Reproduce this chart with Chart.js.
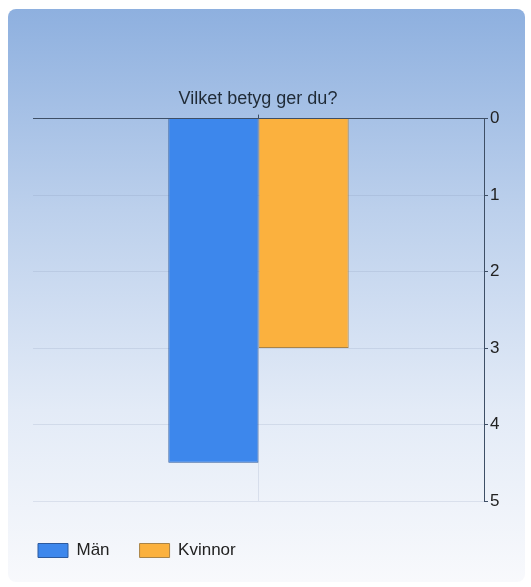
<!DOCTYPE html>
<html>
<head>
<meta charset="utf-8">
<script src="https://cdn.jsdelivr.net/npm/chart.js@4/dist/chart.umd.min.js"></script>
<style>
  body { margin: 0; background: #fff; }
  #wrap { position: relative; width: 531px; height: 587px; }
  #panel {
    position: absolute; left: 8px; top: 9px; width: 517px; height: 573px;
    border-radius: 8px;
    background: linear-gradient(#8eb0df 0%, #bcd0ec 35%, #e3ebf7 70%, #f8f9fc 100%);
  }
  #chart { position: absolute; left: 0; top: 0; }
</style>
</head>
<body>
<div id="wrap">
  <div id="panel"></div>
  <canvas id="chart" width="531" height="587"></canvas>
</div>
<script>
const categories = [''];
const seriesNames = ['Män', 'Kvinnor'];
const manValues = [4.5];
const kvinnorValues = [3];
const yTicks = [0, 1, 2, 3, 4, 5];

const fontFamily = 'Arial, "Liberation Sans", sans-serif';
const axisColor = '#3e4f66';
const gridColor = 'rgba(120,140,170,0.18)';

// empty axis used only to reserve room around the plot
const spacer = (side, size) => ({
  type: 'linear',
  position: side,
  grid: { display: false },
  border: { display: false },
  ticks: { display: false },
  afterFit: (scale) => {
    if (side === 'left' || side === 'right') scale.width = size;
    else scale.height = size;
  },
});

new Chart(document.getElementById('chart'), {
  type: 'bar',
  data: {
    labels: categories,
    datasets: [
      {
        label: seriesNames[0],
        data: manValues,
        xAxisID: 'x',
        yAxisID: 'y',
        backgroundColor: '#3d87ec',
        borderColor: '#2c5a9e',
        borderWidth: 1,
      },
      {
        label: seriesNames[1],
        data: kvinnorValues,
        xAxisID: 'x',
        yAxisID: 'y',
        backgroundColor: '#fbb13e',
        borderColor: '#a98448',
        borderWidth: 1,
      },
    ],
  },
  options: {
    responsive: false,
    animation: false,
    layout: { padding: { left: 8, right: 23, top: 88, bottom: 18 } },
    datasets: { bar: { categoryPercentage: 0.4, barPercentage: 1 } },
    scales: {
      x: {
        position: 'top',
        grid: { offset: false, color: gridColor, tickColor: axisColor, tickLength: 4 },
        border: { color: axisColor, width: 1 },
        ticks: { display: false },
        afterFit: (scale) => { scale.height = 6; },
      },
      y: {
        position: 'right',
        reverse: true,
        min: yTicks[0],
        max: yTicks[yTicks.length - 1],
        afterBuildTicks: (scale) => { scale.ticks = yTicks.map((v) => ({ value: v })); },
        grid: { color: gridColor, tickColor: axisColor, tickLength: 4 },
        border: { color: axisColor, width: 1 },
        ticks: { color: '#222', padding: 2, font: { family: fontFamily, size: 17 } },
        afterFit: (scale) => { scale.width = 24; },
      },
      padLeft: spacer('left', 25),
      padBottom: spacer('bottom', 11),
    },
    plugins: {
      title: {
        display: true,
        text: 'Vilket betyg ger du?',
        color: '#1f2a36',
        font: { family: fontFamily, size: 18, weight: 'normal' },
        padding: { top: 0, bottom: 3 },
      },
      legend: {
        position: 'bottom',
        align: 'start',
        labels: {
          boxWidth: 30,
          boxHeight: 14,
          padding: 30,
          color: '#222',
          font: { family: fontFamily, size: 17 },
        },
      },
      tooltip: { enabled: false },
    },
  },
});
</script>
</body>
</html>
